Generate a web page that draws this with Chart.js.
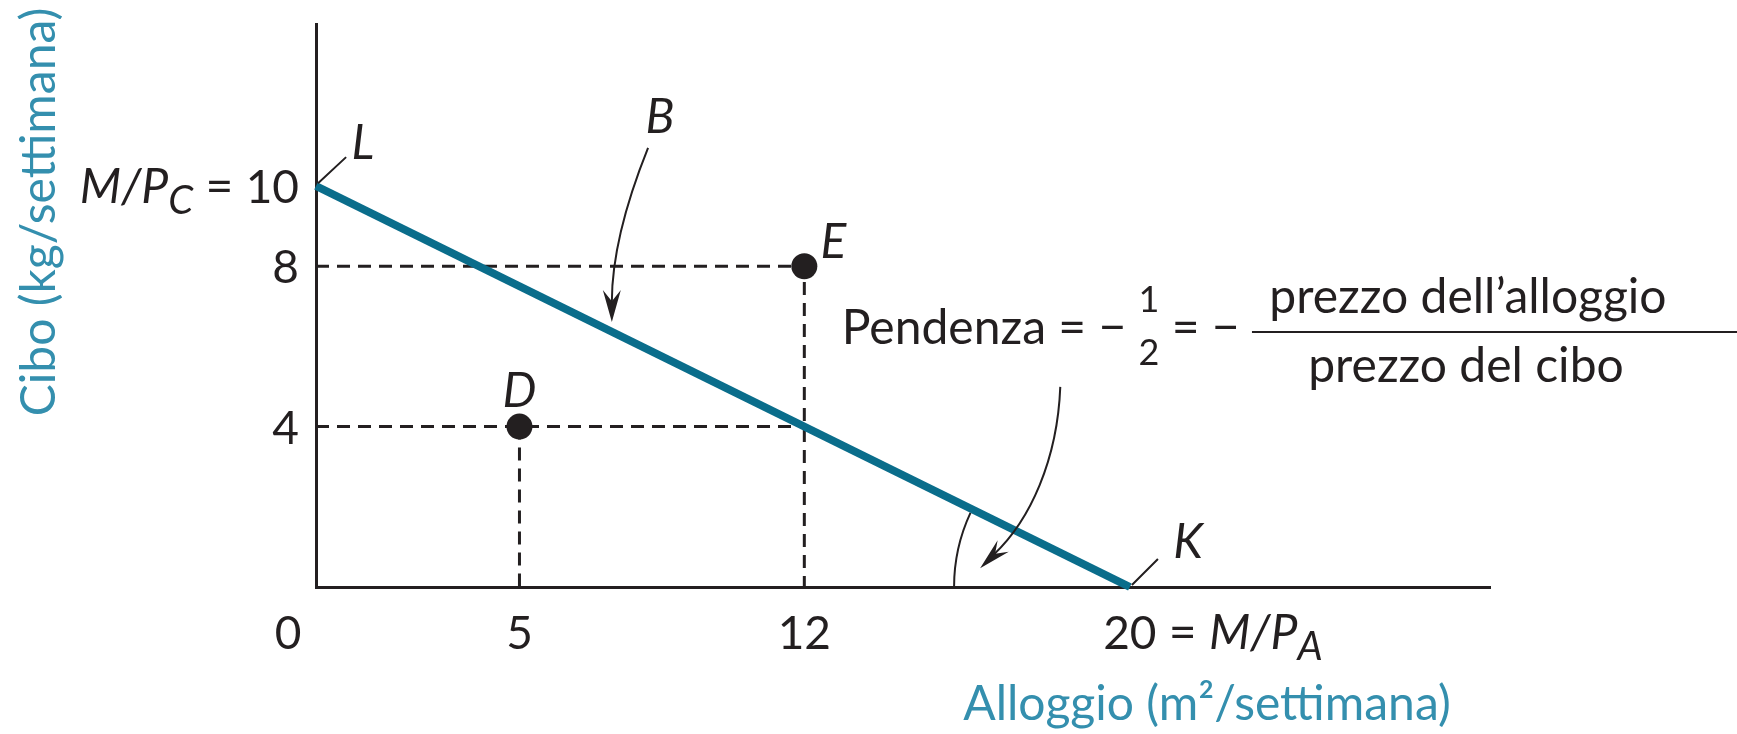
<!DOCTYPE html>
<html>
<head>
<meta charset="utf-8">
<script src="https://cdn.jsdelivr.net/npm/chart.js@4.4.0/dist/chart.umd.min.js"></script>
<style>
  html, body { margin: 0; padding: 0; background: #fff; }
  #wrap { width: 1737px; height: 734px; position: relative; }
</style>
</head>
<body>
<div id="wrap"><canvas id="budgetChart"></canvas></div>
<script>
// budget line L -> K
const budgetX = [0, 20];
const budgetY = [10, 0];

// market baskets
const basketNames = ['D', 'E'];
const basketX = [5, 12];
const basketY = [4, 8];

// tick labels
const xTickValues = [0, 5, 12, 20];
const yTickValues = [4, 8, 10];

const INK = '#231f20';
const TEAL = '#0a6d8b';
const TEAL_LIGHT = '#348fae';
const FONT = 'Lato, "Open Sans", sans-serif';

const budgetData = budgetX.map((x, i) => ({ x, y: budgetY[i] }));
const basketData = basketX.map((x, i) => ({ x, y: basketY[i] }));

// x where the budget line reaches a given food level
const onBudget = y => budgetX[1] * (1 - y / budgetY[0]);

const guideE = [{ x: 0, y: basketY[1] }, { x: basketX[1], y: basketY[1] }, { x: basketX[1], y: 0 }];
const guideD = [{ x: 0, y: basketY[0] }, { x: onBudget(basketY[0]), y: basketY[0] }];
const guideDdown = [{ x: basketX[0], y: basketY[0] }, { x: basketX[0], y: 0 }];

const font = (size, italic) => `${italic ? 'italic ' : ''}${size}px ${FONT}`;

// draw a row of text pieces (for subscripts / italics), returns end x
function drawPieces(ctx, pieces, x, y, align) {
  ctx.textAlign = 'left';
  const widths = pieces.map(p => { ctx.font = font(p.size || 48, p.italic); return ctx.measureText(p.t).width; });
  const total = widths.reduce((a, b) => a + b, 0);
  let cx = align === 'right' ? x - total : x;
  pieces.forEach((p, i) => {
    ctx.font = font(p.size || 48, p.italic);
    ctx.fillText(p.t, cx, y + (p.dy || 0));
    cx += widths[i];
  });
  return cx;
}

function arrowHead(ctx, tipX, tipY, fromX, fromY, len, half) {
  const a = Math.atan2(tipY - fromY, tipX - fromX);
  const bx = tipX - len * Math.cos(a), by = tipY - len * Math.sin(a);
  ctx.beginPath();
  ctx.moveTo(tipX, tipY);
  ctx.lineTo(bx + half * Math.sin(a), by - half * Math.cos(a));
  ctx.lineTo(bx + 0.35 * len * Math.cos(a), by + 0.35 * len * Math.sin(a));
  ctx.lineTo(bx - half * Math.sin(a), by + half * Math.cos(a));
  ctx.closePath();
  ctx.fill();
}

const annotate = {
  id: 'annotate',
  afterDraw(chart) {
    const { ctx, scales: { x, y } } = chart;
    const px = v => x.getPixelForValue(v);
    const py = v => y.getPixelForValue(v);
    ctx.save();
    ctx.fillStyle = INK;
    ctx.strokeStyle = INK;
    ctx.textBaseline = 'alphabetic';

    // x tick labels
    const xBase = py(0) + 62;
    xTickValues.forEach(v => {
      ctx.font = font(46);
      ctx.textAlign = 'center';
      if (v === 0) {
        ctx.fillText('0', px(0) - 28, xBase);
      } else if (v === budgetX[1]) {
        const w = ctx.measureText(String(v)).width;
        drawPieces(ctx, [
          { t: String(v), size: 46 }, { t: ' = ' }, { t: 'M/P', italic: true },
          { t: 'A', italic: true, size: 40, dy: 11 }
        ], px(v) - w / 2, xBase);
      } else {
        ctx.fillText(String(v), px(v), xBase);
      }
    });

    // y tick labels
    yTickValues.forEach(v => {
      const base = py(v) + 17;
      if (v === budgetY[0]) {
        drawPieces(ctx, [
          { t: 'M/P', italic: true }, { t: 'C', italic: true, size: 40, dy: 11 },
          { t: ' = ' }, { t: String(v), size: 46 }
        ], px(0) - 17, base, 'right');
      } else {
        drawPieces(ctx, [{ t: String(v), size: 46 }], px(0) - 17, base, 'right');
      }
    });

    // point labels
    ctx.font = font(48, true);
    ctx.textAlign = 'center';
    ctx.fillText(basketNames[0], px(basketX[0]), py(basketY[0] + 0.92) + 17);
    ctx.textAlign = 'left';
    ctx.fillText(basketNames[1], px(basketX[1] + 0.4), py(basketY[1] + 0.62) + 17);
    ctx.textAlign = 'center';
    ctx.fillText('L', px(1.15), py(11.1) + 17);
    ctx.fillText('B', px(8.45), py(11.75) + 17);
    ctx.fillText('K', px(21.43), py(1.15) + 17);

    // leaders for L and K
    ctx.lineWidth = 2;
    ctx.beginPath();
    ctx.moveTo(px(0.05), py(10.07)); ctx.lineTo(px(0.74), py(10.72));
    ctx.moveTo(px(20.05), py(0.05)); ctx.lineTo(px(20.69), py(0.70));
    ctx.stroke();

    // curved arrow to B
    const b0 = [px(8.16), py(10.95)], bc = [px(7.27), py(8.7)], bt = [px(7.27), py(6.61)];
    ctx.beginPath();
    ctx.moveTo(b0[0], b0[1]);
    ctx.quadraticCurveTo(bc[0], bc[1], bt[0], bt[1] - 20);
    ctx.stroke();
    arrowHead(ctx, bt[0], bt[1], bc[0], bc[1], 32, 9);

    // slope arrow
    const s0 = [px(18.29), py(4.99)], s1 = [px(18.22), py(3.17)], s2 = [px(17.55), py(1.67)], st = [px(16.32), py(0.47)];
    ctx.beginPath();
    ctx.moveTo(s0[0], s0[1]);
    ctx.bezierCurveTo(s1[0], s1[1], s2[0], s2[1], st[0] + 14, st[1] - 14);
    ctx.stroke();
    arrowHead(ctx, st[0], st[1], s2[0], s2[1], 32, 8);

    // angle arc at K
    const kx = px(budgetX[1]), ky = py(0);
    const r = kx - px(15.68);
    const ang = Math.atan2(py(0) - py(budgetY[0]), px(budgetX[1]) - px(0));
    ctx.beginPath();
    ctx.arc(kx, ky, r, Math.PI, Math.PI + ang * 0.95);
    ctx.stroke();

    // slope text
    const sx = px(12.92), sb = py(6.06);
    let cx = drawPieces(ctx, [{ t: 'Pendenza = \u2212 ' }], sx, sb);
    ctx.font = font(36);
    ctx.textAlign = 'center';
    const fw = ctx.measureText('1').width;
    ctx.fillText('1', cx + fw / 2, sb - 32);
    ctx.fillText('2', cx + fw / 2, sb + 21);
    cx = drawPieces(ctx, [{ t: ' = \u2212 ' }], cx + fw, sb);
    const barY = sb - 12;
    ctx.lineWidth = 2;
    ctx.beginPath();
    ctx.moveTo(cx, barY); ctx.lineTo(chart.width, barY);
    ctx.stroke();
    ctx.font = font(48);
    ctx.textAlign = 'center';
    ctx.fillText('prezzo dell\u2019alloggio', cx + 216, sb - 31);
    ctx.fillText('prezzo del cibo', cx + 214, sb + 38);

    // axis titles
    ctx.fillStyle = TEAL_LIGHT;
    ctx.font = font(48);
    ctx.textAlign = 'center';
    ctx.fillText('Alloggio (m\u00b2/settimana)', 1207, 720);
    ctx.save();
    ctx.translate(55, 212);
    ctx.rotate(-Math.PI / 2);
    ctx.fillText('Cibo (kg/settimana)', 0, 0);
    ctx.restore();

    ctx.restore();
  }
};

const guideStyle = {
  type: 'line', borderColor: INK, borderWidth: 3, borderDash: [13, 8],
  pointRadius: 0, fill: false, order: 3, clip: false
};

new Chart(document.getElementById('budgetChart'), {
  type: 'line',
  data: {
    datasets: [
      { ...guideStyle, data: guideE },
      { ...guideStyle, data: guideD },
      { ...guideStyle, data: guideDdown },
      {
        type: 'line', data: budgetData, borderColor: TEAL, borderWidth: 8,
        borderCapStyle: 'butt', pointRadius: 0, order: 2, clip: false
      },
      {
        type: 'scatter', data: basketData, backgroundColor: INK, borderWidth: 0,
        pointRadius: 13, order: 1, clip: false
      }
    ]
  },
  options: {
    responsive: true,
    maintainAspectRatio: false,
    animation: false,
    events: [],
    layout: { padding: { left: 316, right: 247, top: 24, bottom: 147 } },
    scales: {
      x: {
        type: 'linear', min: 0, max: 28.85,
        grid: { display: false, drawTicks: false },
        border: { color: INK, width: 3 },
        ticks: { display: false }
      },
      y: {
        type: 'linear', min: 0, max: 14.04,
        grid: { display: false, drawTicks: false },
        border: { color: INK, width: 3 },
        ticks: { display: false }
      }
    },
    plugins: {
      legend: { display: false },
      tooltip: { enabled: false }
    }
  },
  plugins: [annotate]
});
</script>
</body>
</html>
